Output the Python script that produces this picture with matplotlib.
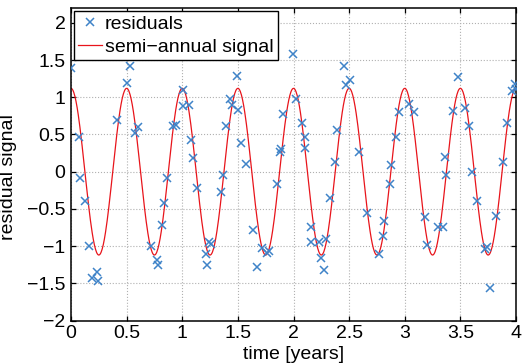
import numpy as np
import matplotlib
matplotlib.use("Agg")
import matplotlib.pyplot as plt

plt.rcParams['font.family'] = ['Liberation Sans', 'DejaVu Sans']

# residual observations (time in years, residual)
res_t = [0.00, 0.07, 0.085, 0.13, 0.165, 0.19, 0.235, 0.24, 0.41, 0.50, 0.53, 0.575, 0.60,
         0.715, 0.775, 0.785, 0.82, 0.835, 0.865, 0.915, 0.94, 1.01, 1.01, 1.06, 1.075, 1.095,
         1.135, 1.215, 1.225, 1.24, 1.26, 1.345, 1.37, 1.395, 1.425, 1.445, 1.49, 1.50, 1.525,
         1.57, 1.635, 1.675, 1.72, 1.765, 1.78, 1.848, 1.875, 1.888, 1.905, 1.998, 2.022, 2.076,
         2.10, 2.106, 2.16, 2.155, 2.233, 2.25, 2.277, 2.294, 2.327, 2.37, 2.394, 2.455, 2.468,
         2.505, 2.59, 2.66, 2.77, 2.80, 2.815, 2.87, 2.88, 2.92, 2.95, 3.035, 3.08, 3.18, 3.20,
         3.30, 3.345, 3.36, 3.37, 3.435, 3.48, 3.54, 3.58, 3.60, 3.65, 3.72, 3.74, 3.765, 3.82,
         3.88, 3.915, 3.96, 3.99, 4.00]
res_v = [1.40, 0.47, -0.09, -0.40, -1.00, -1.43, -1.35, -1.47, 0.69, 1.19, 1.42, 0.52, 0.60,
         -1.00, -1.19, -1.25, -0.71, -0.42, -0.09, 0.61, 0.63, 1.10, 0.88, 0.90, 0.42, 0.19,
         -0.22, -1.10, -1.26, -0.95, -0.97, -0.27, -0.04, 0.61, 0.98, 0.89, 1.28, 0.83, 0.39,
         0.11, -0.78, -1.28, -1.03, -1.09, -1.07, -0.17, 0.27, 0.31, 0.78, 1.58, 0.98, 0.66,
         0.32, 0.47, -0.74, -0.95, -0.95, -1.16, -1.32, -0.91, -0.36, 0.13, 0.56, 1.42, 1.17,
         1.23, 0.26, -0.56, -1.10, -0.87, -0.66, -0.16, 0.09, 0.47, 0.80, 0.91, 0.80, -0.61, -0.99,
         -0.75, -0.75, 0.20, -0.05, 0.82, 1.27, 0.86, 0.62, 0.00, -0.40, -1.04, -1.01, -1.56, -0.60,
         0.13, 0.66, 1.08, 1.18, 1.11]

# fitted semi-annual signal model parameters
sig_amplitude = 1.12
sig_period = 0.5      # years
sig_phase = 0.0       # years (time of maximum)

xticks = [0, 0.5, 1, 1.5, 2, 2.5, 3, 3.5, 4]
xticklabels = ['0', '0.5', '1', '1.5', '2', '2.5', '3', '3.5', '4']
yticks = [-2, -1.5, -1, -0.5, 0, 0.5, 1, 1.5, 2]
yticklabels = ['\u22122', '\u22121.5', '\u22121', '\u22120.5', '0', '0.5', '1', '1.5', '2']

fig = plt.figure(figsize=(5.23, 3.63), dpi=100)
ax = fig.add_axes([71/523, 1 - 320.5/363, 445/523, 312.5/363])

t = np.linspace(0, 4, 800)
sig = sig_amplitude * np.cos(2 * np.pi * (t - sig_phase) / sig_period)

ax.plot(res_t, res_v, linestyle='none', marker='x', color='#3F83C8', markersize=5.5,
        markeredgewidth=1.1, label='residuals', zorder=3)
ax.plot(t, sig, color='#E8141B', linewidth=0.9, label='semi\u2212annual signal', zorder=2)

ax.set_xlim(0, 4)
ax.set_ylim(-2, 2.2)
ax.set_xticks(xticks)
ax.set_xticklabels(xticklabels)
ax.set_yticks(yticks)
ax.set_yticklabels(yticklabels)

ax.grid(True, linestyle=':', color='#b0b0b0', linewidth=0.8)
ax.set_axisbelow(True)
for s in ax.spines.values():
    s.set_linewidth(1.1)
    s.set_color('black')
ax.tick_params(direction='in', length=3.5, width=0.9, top=True, right=True,
               labelsize=14, pad=4, colors='black')
ax.tick_params(axis='x', pad=3)

ax.set_xlabel('time [years]', fontsize=14, labelpad=0)
ax.xaxis.set_label_coords(0.5, -0.082)
ax.set_ylabel('residual signal', fontsize=14)
ax.yaxis.set_label_coords(-0.122, 0.46)

leg = ax.legend(loc='upper left', bbox_to_anchor=(2.5/445, 1 - 3/312.5), borderaxespad=0,
                fontsize=14, frameon=True, fancybox=False, edgecolor='black',
                handlelength=1.25, handletextpad=0.15, labelspacing=0.28, borderpad=0.22)
leg.get_frame().set_linewidth(1.0)
leg.get_frame().set_alpha(1)

fig.savefig('out.png', dpi=100)
